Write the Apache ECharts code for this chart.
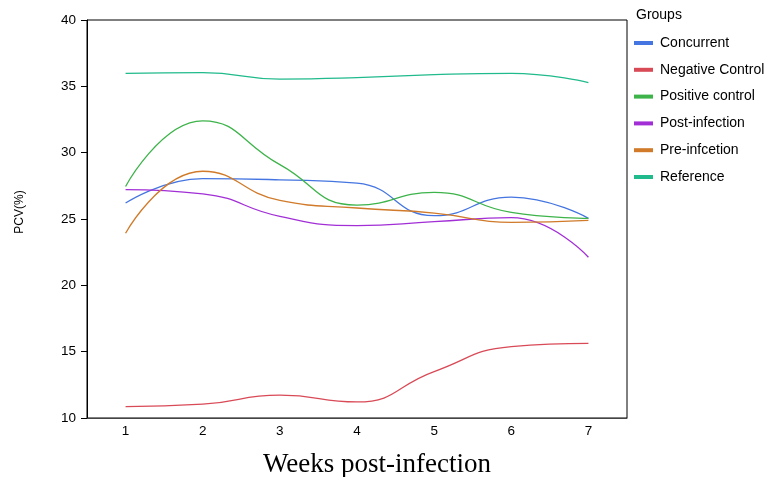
<!DOCTYPE html>
<html>
<head>
<meta charset="utf-8">
<script src="https://cdn.jsdelivr.net/npm/echarts@6/dist/echarts.min.js"></script>
<style>html,body{margin:0;padding:0;background:#fff;}#c{width:767px;height:477px;}</style>
</head>
<body>
<div id="c"></div>
<script>
const weeks = ['1','2','3','4','5','6','7'];
const yTicks = [10,15,20,25,30,35,40];
const concurrent = [26.2, 28.05, 27.95, 27.7, 25.25, 26.65, 25.05];
const negativeControl = [10.86, 11.04, 11.72, 11.21, 13.5, 15.38, 15.63];
const positiveControl = [27.45, 32.4, 29.1, 26.05, 27.0, 25.5, 25.05];
const postInfection = [27.22, 26.9, 25.2, 24.5, 24.8, 25.1, 22.12];
const preInfection = [23.93, 28.6, 26.4, 25.83, 25.45, 24.75, 24.9];
const reference = [35.98, 36.03, 35.55, 35.65, 35.88, 35.98, 35.28];

const names = ['Concurrent','Negative Control','Positive control','Post-infection','Pre-infcetion','Reference'];
const datas = [concurrent, negativeControl, positiveControl, postInfection, preInfection, reference];
const colors = ['#4475e0','#d94a57','#3db34a','#a22fd6','#d07a2a','#20ba8c'];

const chart = echarts.init(document.getElementById('c'), null, {renderer:'canvas'});
chart.setOption({
  animation: false,
  color: colors,
  title: {
    text: 'Groups', left: 631, top: 3,
    textStyle: {fontFamily: 'Liberation Sans', fontSize: 14, fontWeight: 'normal', color: '#000'}
  },
  legend: {
    orient: 'vertical', left: 629, top: 31,
    icon: 'rect', itemWidth: 19, itemHeight: 4, itemGap: 12.8,
    textStyle: {fontFamily: 'Liberation Sans', fontSize: 14, color: '#000', padding: [0,0,0,2]},
    data: names
  },
  grid: {
    left: 87, right: 140, top: 20, bottom: 59,
    outerBoundsMode: 'none', containLabel: false,
    show: true, borderColor: '#000', borderWidth: 1, backgroundColor: 'transparent'
  },
  xAxis: {
    type: 'category', data: weeks, boundaryGap: true,
    name: 'Weeks post-infection', nameLocation: 'middle', nameGap: 33,
    nameTextStyle: {fontFamily: 'Liberation Serif', fontSize: 27, color: '#000', padding: [0,0,0,40]},
    axisLine: {lineStyle: {color: '#444', width: 1}},
    axisTick: {show: false},
    axisLabel: {fontFamily: 'Liberation Sans', fontSize: 13.5, color: '#000', margin: 6}
  },
  yAxis: {
    type: 'value', min: yTicks[0], max: yTicks[yTicks.length-1], interval: 5,
    name: 'PCV(%)', nameLocation: 'middle', nameGap: 61, nameRotate: 90,
    nameTextStyle: {fontFamily: 'Liberation Sans', fontSize: 12, color: '#000', padding: [0,0,0,14]},
    axisLine: {show: true, lineStyle: {color: '#000', width: 1}},
    axisTick: {show: true, length: 6, lineStyle: {color: '#000'}},
    splitLine: {show: false},
    axisLabel: {fontFamily: 'Liberation Sans', fontSize: 13.5, color: '#000', margin: 11}
  },
  series: names.map((n, i) => ({
    name: n, type: 'line', data: datas[i], smooth: 0.5,
    showSymbol: false, symbol: 'none',
    lineStyle: {width: 1.3, color: colors[i]}
  }))
});
</script>
</body>
</html>
